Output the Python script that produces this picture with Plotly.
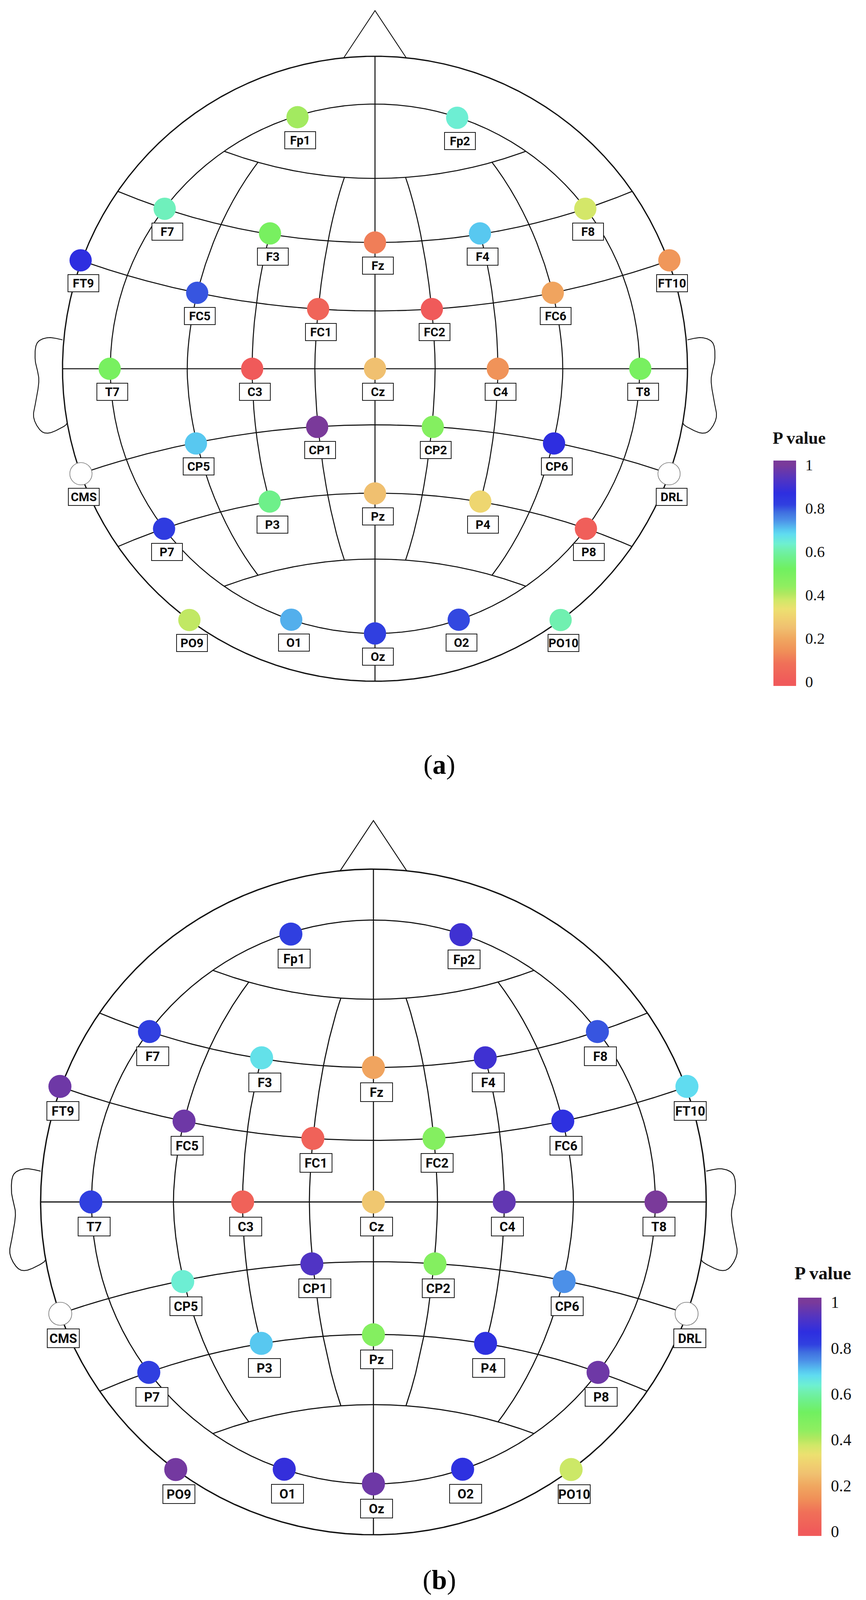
import numpy as np
import plotly.graph_objects as go

# ------------------------------------------------------------------ data
electrodes = ["Fp1", "Fp2", "F7", "F3", "Fz", "F4", "F8", "FT9", "FC5", "FC1", "FC2", "FC6", "FT10",
              "T7", "C3", "Cz", "C4", "T8", "CP5", "CP1", "CP2", "CP6", "P7", "P3", "Pz", "P4", "P8",
              "PO9", "O1", "Oz", "O2", "PO10"]
# montage coordinates on the head drawing (head radius = 1)
elec_u = [-0.248, 0.263, -0.673, -0.336, 0.0, 0.336, 0.673, -0.942, -0.569, -0.182, 0.182, 0.569, 0.942,
          -0.849, -0.393, 0.0, 0.393, 0.849, -0.573, -0.185, 0.185, 0.573, -0.675, -0.337, 0.0, 0.337, 0.675,
          -0.594, -0.268, 0.0, 0.268, 0.594]
elec_v = [0.805, 0.803, 0.512, 0.433, 0.404, 0.433, 0.512, 0.347, 0.243, 0.191, 0.191, 0.243, 0.347,
          0.0, 0.0, 0.0, 0.0, 0.0, -0.239, -0.186, -0.186, -0.239, -0.512, -0.425, -0.399, -0.425, -0.512,
          -0.804, -0.803, -0.847, -0.803, -0.804]
# P values, panel (a) and panel (b)
p_a = [0.42, 0.64, 0.62, 0.50, 0.11, 0.70, 0.37, 0.87, 0.80, 0.04, 0.00, 0.19, 0.16,
       0.50, 0.00, 0.25, 0.15, 0.50, 0.70, 1.00, 0.47, 0.87, 0.83, 0.57, 0.25, 0.31, 0.02,
       0.39, 0.72, 0.82, 0.81, 0.61]
p_b = [0.82, 0.90, 0.82, 0.67, 0.19, 0.90, 0.80, 0.98, 0.98, 0.03, 0.47, 0.86, 0.68,
       0.82, 0.03, 0.27, 0.96, 1.00, 0.64, 0.93, 0.47, 0.745, 0.82, 0.70, 0.47, 0.86, 0.98,
       0.99, 0.88, 0.98, 0.86, 0.38]
ref_names = ["CMS", "DRL"]
ref_u = [-0.941, 0.941]
ref_v = [-0.336, -0.336]
cbar_tickvals = [0, 0.2, 0.4, 0.6, 0.8, 1]
cbar_ticktext = ["0", "0.2", "0.4", "0.6", "0.8", "1"]
# colour scale (P value -> colour)
scale_p = [0.0, 0.084, 0.142, 0.2, 0.25, 0.293, 0.335, 0.376, 0.406, 0.44, 0.52, 0.577, 0.61,
           0.636, 0.68, 0.70, 0.745, 0.78, 0.816, 0.87, 0.93, 1.0]
scale_c = ['#f05a5a', '#f07058', '#f09058', '#f0a860', '#f0c070', '#f0d070', '#ece070', '#d0e868',
           '#b0e860', '#90ee60', '#70f060', '#6ef090', '#70f0b0', '#6ef0d0', '#60dcf0', '#58c8f0',
           '#4c90e8', '#4070e0', '#3040e0', '#2e2ee0', '#5034c4', '#7a3a9a']

# ------------------------------------------------------------------ figure geometry (px)
W, H = 2192, 4084
SPLIT = 2042
CMIN, CMAX = -0.02, 1.02

colorscale = [[0.0, scale_c[0]]]
for p, c in zip(scale_p, scale_c):
    colorscale.append([(p - CMIN) / (CMAX - CMIN), c])
colorscale.append([1.0, scale_c[-1]])

LINE = '#101010'
SERIF = 'Liberation Serif, Times New Roman, serif'
LABEL_FONT = 'Liberation Sans Narrow, Roboto, Arial, sans-serif'


def arc_between(c, r, rho, n=1500):
    """circle centred (0,c) radius r, the part inside the circle of radius rho"""
    ve = (rho ** 2 - r ** 2 + c ** 2) / (2 * c)
    ue = np.sqrt(max(rho ** 2 - ve ** 2, 0))
    t0 = np.arctan2(ve - c, -ue)
    t1 = np.arctan2(ve - c, ue)
    t = np.linspace(t0, t1, n)
    return r * np.cos(t), c + r * np.sin(t)


def arc_fn(c, r):
    s = 1 if c > 0 else -1
    return lambda u: c - s * np.sqrt(r ** 2 - u ** 2)


def super_segment(a, b, p, side, upper, lower, n=6000):
    t = np.linspace(-np.pi / 2, np.pi / 2, n)
    u = side * a * np.abs(np.cos(t)) ** (2 / p)
    v = b * np.sign(np.sin(t)) * np.abs(np.sin(t)) ** (2 / p)
    m = (v <= upper(u)) & (v >= lower(u))
    return u[m], v[m]


def catmull(pts, n=20):
    pts = np.asarray(pts)
    P = np.vstack([pts[0], pts, pts[-1]])
    out = []
    for i in range(1, len(P) - 2):
        p0, p1, p2, p3 = P[i - 1], P[i], P[i + 1], P[i + 2]
        for s in np.linspace(0, 1, n, endpoint=False):
            s2, s3 = s * s, s * s * s
            out.append(0.5 * ((2 * p1) + (-p0 + p2) * s + (2 * p0 - 5 * p1 + 4 * p2 - p3) * s2
                              + (-p0 + 3 * p1 - 3 * p2 + p3) * s3))
    out.append(pts[-1])
    return np.array(out)


# grid parameters (head radius = 1)
R_IN = 0.847
top_fn = arc_fn(1.991, 1.382)
bot_fn = arc_fn(-1.991, 1.382)
f_fn = arc_fn(2.555, 2.151)
p_fn = arc_fn(-2.463, 2.065)

segments_thin = []
segments_thin.append(arc_between(2.555, 2.151, 1.0))      # F row
segments_thin.append(arc_between(3.013, 2.828, 1.0))      # FC row
segments_thin.append(arc_between(-3.098, 2.9185, 1.0))    # CP row
segments_thin.append(arc_between(-2.463, 2.065, 1.0))     # P row
segments_thin.append(arc_between(1.991, 1.382, R_IN))     # frontal cap
segments_thin.append(arc_between(-1.991, 1.382, R_IN))    # occipital cap
segments_thin.append((np.array([0.0, 0.0]), np.array([-1.0, 1.0])))
segments_thin.append((np.array([-1.0, 1.0]), np.array([0.0, 0.0])))
tt = np.linspace(0, 2 * np.pi, 1500)
segments_thin.append((R_IN * np.cos(tt), R_IN * np.sin(tt)))
for side in (-1, 1):
    segments_thin.append(super_segment(0.1925, 0.766, 1.7, side, top_fn, bot_fn))
    segments_thin.append(super_segment(0.601, 0.90, 1.8, side, top_fn, bot_fn))
    segments_thin.append(super_segment(0.3932, 0.88, 1.9, side, f_fn, p_fn))

outer = (np.cos(tt), np.sin(tt))
ear_ctrl = [(-1.0, 0.0925), (-1.0458, 0.0996), (-1.0813, 0.0821), (-1.0875, 0.03), (-1.0758, -0.0325),
            (-1.0833, -0.095), (-1.0925, -0.1533), (-1.0708, -0.197), (-1.0417, -0.2054),
            (-0.9958, -0.1846), (-0.9854, -0.174)]
ear_l = catmull(ear_ctrl)
nose_u = np.array([-0.10, 0.0, 0.10])
nose_v = np.array([np.sqrt(1 - 0.01), 1.146, np.sqrt(1 - 0.01)])


def join(segs):
    xs, ys = [], []
    for u, v in segs:
        xs += list(u) + [None]
        ys += list(v) + [None]
    return xs, ys


panels = [
    dict(cx=952, cy=936, R=800, y0=0, y1=SPLIT, xa='x', ya='y', vals=p_a, msize=57,
         box=(77, 42), font=31, yshift=-59, xshift=7,
         cb_x=1972, cb_th=58, cb_top=1171, cb_bot=1748, title_xy=(2038, 1114), title_size=44,
         tick_size=40, tag='a', tag_y=1949),
    dict(cx=948, cy=3069, R=852, y0=SPLIT, y1=H, xa='x2', ya='y2', vals=p_b, msize=59,
         box=(80, 46), font=33, yshift=-63, xshift=8,
         cb_x=2035, cb_th=60, cb_top=3314, cb_bot=3924, title_xy=(2098, 3251), title_size=47,
         tick_size=42, tag='b', tag_y=4036),
]
TAG_X = 1117

fig = go.Figure()
annotations = []
layout_axes = {}

for k, P in enumerate(panels):
    xa, ya = P['xa'], P['ya']
    sx = '' if k == 0 else str(k + 1)
    layout_axes['xaxis' + sx] = dict(domain=[0, 1], range=[-P['cx'] / P['R'], (W - P['cx']) / P['R']],
                                     visible=False, fixedrange=True, anchor=ya)
    layout_axes['yaxis' + sx] = dict(domain=[1 - P['y1'] / H, 1 - P['y0'] / H],
                                     range=[(P['cy'] - P['y1']) / P['R'], (P['cy'] - P['y0']) / P['R']],
                                     visible=False, fixedrange=True, anchor=xa)
    sc = P['R'] / 800.0
    gx, gy = join(segments_thin)
    fig.add_trace(go.Scatter(x=gx, y=gy, mode='lines', line=dict(color=LINE, width=2.6 * sc),
                             xaxis=xa, yaxis=ya, hoverinfo='skip'))
    fig.add_trace(go.Scatter(x=outer[0], y=outer[1], mode='lines', line=dict(color=LINE, width=3.2 * sc),
                             xaxis=xa, yaxis=ya, hoverinfo='skip'))
    ex, ey = join([(ear_l[:, 0], ear_l[:, 1]), (-ear_l[:, 0], ear_l[:, 1]), (nose_u, nose_v)])
    fig.add_trace(go.Scatter(x=ex, y=ey, mode='lines', line=dict(color=LINE, width=2.2 * sc),
                             xaxis=xa, yaxis=ya, hoverinfo='skip'))
    # electrodes
    cb_len = P['cb_bot'] - P['cb_top']
    fig.add_trace(go.Scatter(
        x=elec_u, y=elec_v, mode='markers', xaxis=xa, yaxis=ya, text=electrodes,
        marker=dict(size=P['msize'], color=P['vals'], colorscale=colorscale, cmin=CMIN, cmax=CMAX,
                    line=dict(width=0), opacity=1,
                    showscale=True,
                    colorbar=dict(x=P['cb_x'] / W, xanchor='left', xpad=0,
                                  y=1 - (P['cb_top'] + P['cb_bot']) / 2 / H, yanchor='middle', ypad=0,
                                  len=cb_len, lenmode='pixels', thickness=P['cb_th'],
                                  thicknessmode='pixels', outlinewidth=0,
                                  tickvals=cbar_tickvals, ticktext=cbar_ticktext,
                                  ticks='outside', ticklen=16, tickcolor='rgba(0,0,0,0)',
                                  tickfont=dict(family=SERIF, size=P['tick_size'], color='#111111'))),
        hovertemplate='%{text}: %{marker.color}<extra></extra>'))
    fig.add_trace(go.Scatter(x=ref_u, y=ref_v, mode='markers', xaxis=xa, yaxis=ya, text=ref_names,
                             marker=dict(size=P['msize'], color='white',
                                         line=dict(color='#7a7a7a', width=1.6 * sc)),
                             hoverinfo='text'))
    for name, u, v in list(zip(electrodes, elec_u, elec_v)) + list(zip(ref_names, ref_u, ref_v)):
        annotations.append(dict(x=u, y=v, xref=xa, yref=ya, text=name, showarrow=False,
                                xshift=P['xshift'], yshift=P['yshift'],
                                width=P['box'][0], height=P['box'][1], align='center', valign='middle',
                                bgcolor='white', bordercolor='#1a1a1a', borderwidth=2, borderpad=0,
                                font=dict(family=LABEL_FONT, size=P['font'], color='#0a0a0a',
                                          weight='bold')))
    tx, ty = P['title_xy']
    annotations.append(dict(x=tx / W, y=1 - ty / H, xref='paper', yref='paper', text='<b>P value</b>',
                            showarrow=False, xanchor='center', yanchor='middle',
                            font=dict(family=SERIF, size=P['title_size'], color='#111111')))
    annotations.append(dict(x=TAG_X / W, y=1 - P['tag_y'] / H, xref='paper', yref='paper',
                            text='(<b>%s</b>)' % P['tag'], showarrow=False,
                            xanchor='center', yanchor='middle',
                            font=dict(family=SERIF, size=70, color='#000000')))

fig.update_layout(width=W, height=H, margin=dict(l=0, r=0, t=0, b=0), showlegend=False,
                  paper_bgcolor='white', plot_bgcolor='white', annotations=annotations, **layout_axes)

fig.write_html("out.html")
